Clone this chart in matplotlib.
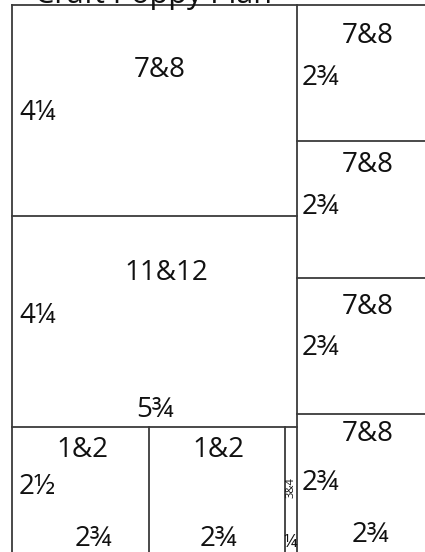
import matplotlib
matplotlib.use("Agg")
import matplotlib.pyplot as plt

plt.rcParams['font.family'] = ['Open Sans', 'DejaVu Sans']

# Layout of the plan (pixel units of the sheet)
left_edge = 12
col_split = 297
top_edge = 5
left_rows = [216, 427]          # horizontal dividers in left column
right_rows = [141, 278, 414]    # horizontal dividers in right column
bottom_splits = [149, 285]      # verticals in bottom-left row

title = "Craft Poppy Plan"

# labels
big_labels = ["7&8", "11&12", "1&2", "1&2",
              "7&8", "7&8", "7&8", "7&8"]
big_x = [160, 166, 82, 218, 368, 368, 368, 368]
big_y = [70, 273, 450, 450, 36, 165, 307, 434]

dim_labels = ["4¼", "4¼", "5¾", "2½", "2¾", "2¾",
              "2¾", "2¾", "2¾", "2¾", "2¾"]
dim_x = [19, 19, 155, 19, 93, 218, 302, 302, 302, 302, 370]
dim_y = [113, 316, 410, 487, 539, 539, 78, 207, 348, 483, 535]
dim_ha = ["left", "left", "center", "left", "center", "center",
          "left", "left", "left", "left", "center"]

fig = plt.figure(figsize=(4.25, 5.52), dpi=100)
ax = fig.add_axes([0, 0, 1, 1])
ax.set_xlim(0, 425)
ax.set_ylim(552, 0)
ax.axis('off')

lc = '#3a3a3a'
lw = 1.3
ax.plot([left_edge, 440], [top_edge, top_edge], color=lc, lw=lw)
ax.plot([left_edge, left_edge], [top_edge, 560], color=lc, lw=lw)
ax.plot([col_split, col_split], [top_edge, 560], color=lc, lw=lw)
for y in left_rows:
    ax.plot([left_edge, col_split], [y, y], color=lc, lw=lw)
for y in right_rows:
    ax.plot([col_split, 440], [y, y], color=lc, lw=lw)
for x in bottom_splits:
    ax.plot([x, x], [left_rows[-1], 560], color=lc, lw=lw)

ax.text(35, 3, title, fontsize=22, ha='left', va='baseline', color='#111')

for t, x, y in zip(big_labels, big_x, big_y):
    ax.text(x, y, t, fontsize=20, ha='center', va='center', color='#111')
for t, x, y, ha in zip(dim_labels, dim_x, dim_y, dim_ha):
    ax.text(x, y, t, fontsize=20, ha=ha, va='center', color='#111')

ax.text(291, 488, "3&4", fontsize=8, rotation=90, ha='center', va='center', color='#111')
ax.text(290, 542, "¼", fontsize=13, ha='center', va='center', color='#111')

fig.savefig("out.png", dpi=100)
